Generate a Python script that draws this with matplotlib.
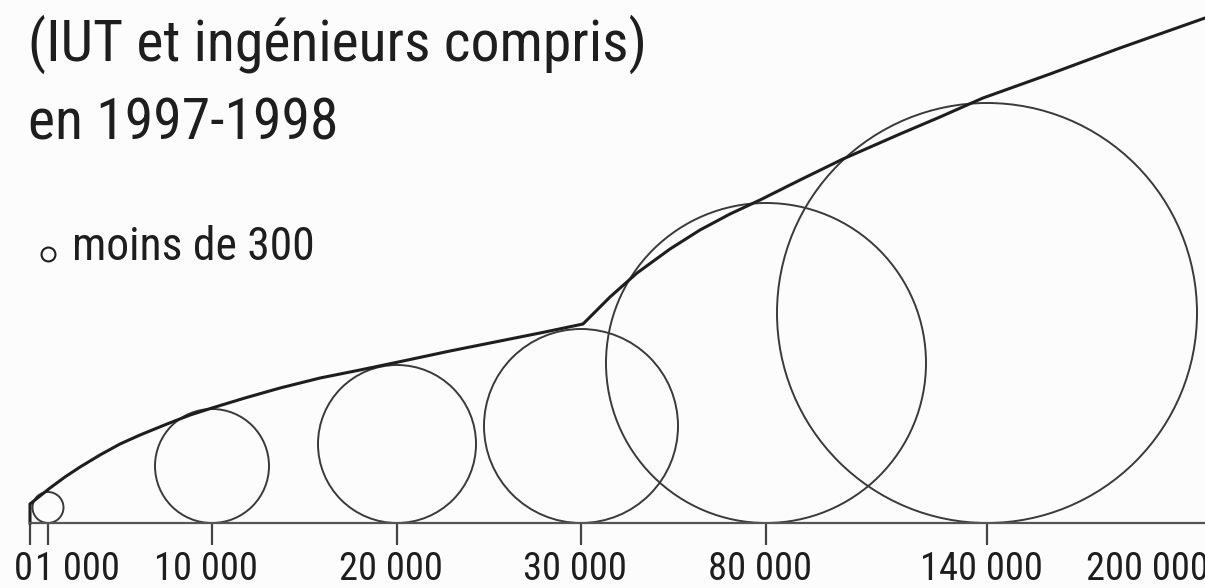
import os
import numpy as np
import matplotlib.pyplot as plt
from matplotlib import font_manager as fm
from matplotlib.font_manager import FontProperties
from matplotlib.patches import Circle

# axis values and their labels
tick_vals = [0, 1000, 10000, 20000, 30000, 80000, 140000, 200000]
tick_labels = ['0', '1 000', '10 000', '20 000', '30 000', '80 000', '140 000', '200 000']

# circles: centre value on the axis and radius
circle_vals = [1000, 10000, 20000, 30000, 80000, 140000]
circle_radius = [15.5, 57, 79, 97, 160, 210]

# envelope line (value, height above the axis)
curve_x = [0, 0, 556, 1110, 1930, 2760, 3850, 4950, 6050, 7530, 8800,
           10000, 11780, 13680, 15840, 18000, 20330, 22880, 25600, 28040,
           30540, 37840, 45140, 54060, 62160, 70270, 78380, 89230, 100900,
           116380, 127240, 138910, 162770, 188070, 218790]
curve_h = [0, 19, 27, 35, 46, 56, 68, 79, 88, 99, 108,
           115, 125, 135, 145, 153, 162, 172, 182, 191,
           199, 226, 250, 274, 293, 309, 323, 343, 364,
           389, 406, 425, 449, 475, 505]

title_lines = ['(IUT et ingénieurs compris)', 'en 1997-1998']
legend_text = 'moins de 300'

# the axis is not linear: each labelled value sits at its own position
tick_pos = [30, 48, 212, 397, 581, 766, 987, 1153]


def pos(v):
    v = np.asarray(v, dtype=float)
    p = np.interp(v, tick_vals, tick_pos)
    slope = (tick_pos[-1] - tick_pos[-2]) / (tick_vals[-1] - tick_vals[-2])
    return np.where(v > tick_vals[-1], tick_pos[-1] + (v - tick_vals[-1]) * slope, p)


def pick_font():
    # the original uses a condensed grotesque; take the narrowest sans installed
    bad = ('bold', 'italic', 'oblique', 'light', 'thin', 'black', 'medium',
           'heavy', 'mono', 'cjk')
    pref = ['liberationsansnarrow', 'arialnarrow', 'roboto', 'notosans-', 'opensans',
            'lato', 'inter', 'dejavusans']
    ranked = []
    for f in fm.fontManager.ttflist:
        fn = os.path.basename(f.fname).lower().replace(' ', '')
        if f.style != 'normal' or any(b in fn for b in bad):
            continue
        if 'serif' in fn and 'sans' not in fn:
            continue
        st = str(f.stretch)
        if 'narrow' in fn:
            score = 0
        elif 'semicondensed' in fn or st == 'semi-condensed':
            score = 2
        elif 'extracondensed' in fn or 'ultracondensed' in fn or st in ('extra-condensed', 'ultra-condensed'):
            score = 3
        elif 'condensed' in fn or st == 'condensed':
            score = 1
        else:
            continue
        fam_rank = next((i for i, p in enumerate(pref) if fn.startswith(p)), len(pref))
        if fam_rank == len(pref):
            continue
        ranked.append((score, fam_rank, f.fname))
    if ranked:
        return FontProperties(fname=sorted(ranked)[0][2])
    return FontProperties(family=['Liberation Sans', 'DejaVu Sans'])


fp = pick_font()
ink = '#1e1e1e'

fig = plt.figure(figsize=(12.05, 5.88), dpi=100, facecolor='#fcfcfc')
ax = fig.add_axes([0, 0, 1, 1])
ax.set_facecolor('#fcfcfc')
ax.set_xlim(0, 1205)
ax.set_ylim(-65, 523)
renderer = fig.canvas.get_renderer()


def fit_size(txt, width_px, max_pt):
    t = ax.text(0, 0, txt, fontproperties=fp, fontsize=20)
    w = t.get_window_extent(renderer=renderer).width
    t.remove()
    return min(20 * width_px / w, max_pt)


title_size = fit_size(title_lines[0], 619, 43)
legend_size = fit_size(legend_text, 243, 35)
tick_size = fit_size('140 000', 123, 33)

for v, r in zip(circle_vals, circle_radius):
    ax.add_patch(Circle((float(pos(v)), r), r, fill=False, lw=1.4, ec='#3a3a3a'))

ax.plot(pos(curve_x), curve_h, color=ink, lw=2.2, solid_joinstyle='round')

# baseline + ticks
for s in ['left', 'top', 'right']:
    ax.spines[s].set_visible(False)
ax.spines['bottom'].set_position(('data', 0))
ax.spines['bottom'].set_bounds(tick_pos[0], 1205)
ax.spines['bottom'].set_color('#555555')
ax.spines['bottom'].set_linewidth(1.6)
ax.set_yticks([])
ax.set_xticks(pos(tick_vals[:-1]))
ax.tick_params(axis='x', direction='out', length=16, width=1.6, color='#444444',
               labelbottom=False)

for i, (v, lab) in enumerate(zip(tick_vals, tick_labels)):
    x = float(pos(v))
    if i == 0:
        kw = dict(x=x + 3, ha='right')
    elif i == 1:
        kw = dict(x=x - 13, ha='left')
    else:
        kw = dict(x=x - 6, ha='center')
    ax.text(kw['x'], -57, lab, ha=kw['ha'], va='baseline', fontproperties=fp,
            fontsize=tick_size, color=ink)

# heading and legend
ax.text(28, 462, title_lines[0], ha='left', va='baseline', fontproperties=fp,
        fontsize=title_size, color=ink)
ax.text(28, 383, title_lines[1], ha='left', va='baseline', fontproperties=fp,
        fontsize=title_size, color=ink)
ax.plot([48], [269], marker='o', ms=10, mfc='none', mec=ink, mew=1.5)
ax.text(72, 263, legend_text, ha='left', va='baseline', fontproperties=fp,
        fontsize=legend_size, color=ink)

fig.savefig('out.png', dpi=100, facecolor=fig.get_facecolor())
